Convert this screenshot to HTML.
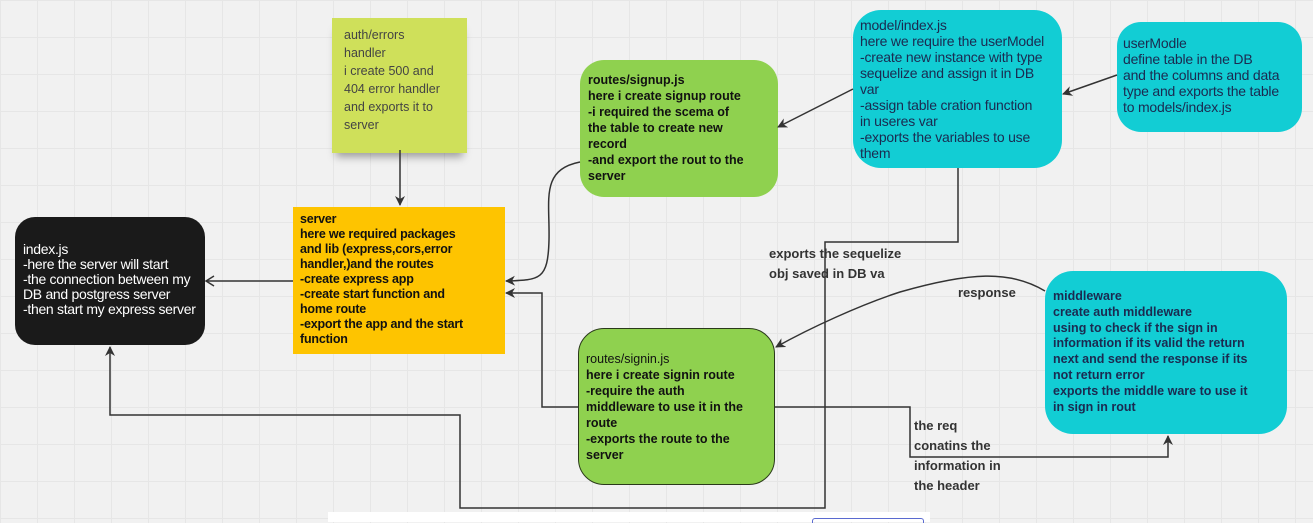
<!DOCTYPE html>
<html><head><meta charset="utf-8"><style>
body{margin:0;width:1313px;height:522px;overflow:hidden;background:#f1f1f1;font-family:"Liberation Sans",sans-serif;position:relative;
background-image:linear-gradient(#e6e6e6 1px,transparent 1px),linear-gradient(90deg,#e6e6e6 1px,transparent 1px);background-size:37px 37px;}
.b{position:absolute;box-sizing:border-box;white-space:nowrap;}
svg{position:absolute;left:0;top:0}
.lbl{position:absolute;font-size:13px;font-weight:bold;color:#333;line-height:20px;white-space:nowrap}
.n{font-family:"Liberation Sans Narrow","Liberation Sans",sans-serif;}
</style></head><body>
<div class="b n" style="left:15px;top:217px;width:190px;height:128px;background:#1a1a1a;border-radius:20px;color:#fff;padding:25px 0 0 8px;line-height:15px;font-size:14px;letter-spacing:-0.3px">index.js<br>-here the server will start<br>-the connection between my<br>DB and postgress server<br>-then start my express server</div>
<div class="b" style="left:293px;top:207px;width:212px;height:147px;background:#fec400;color:#111;font-weight:bold;padding:5px 0 0 7px;font-size:12.5px;line-height:15px;letter-spacing:-0.2px">server<br>here we required packages<br>and lib (express,cors,error<br>handler,)and the routes<br>-create express app<br>-create start function and<br>home route<br>-export the app and the start<br>function</div>
<div class="b" style="left:332px;top:18px;width:135px;height:135px;background:#cfe05a;color:#444;padding:8px 0 0 12px;font-size:12.5px;line-height:18px;box-shadow:0 8px 8px -4px rgba(0,0,0,0.35)">auth/errors<br>handler<br>i create 500 and<br>404 error handler<br>and exports it to<br>server</div>
<div class="b" style="left:580px;top:60px;width:198px;height:137px;background:#8fd14f;border-radius:24px;color:#111;font-weight:bold;padding:12px 0 0 8px;line-height:16px;font-size:12.5px">routes/signup.js<br>here i create signup route<br>-i required the scema of<br>the table to create new<br>record<br>-and export the rout to the<br>server</div>
<div class="b n" style="left:853px;top:10px;width:209px;height:158px;background:#12cdd4;border-radius:28px;color:#1b2a50;padding:7px 0 0 7px;line-height:16px;font-size:14px;letter-spacing:-0.2px">model/index.js<br>here we require the userModel<br>-create new instance with type<br>sequelize and assign it in DB<br>var<br>-assign table cration function<br>in useres var<br>-exports the variables to use<br>them</div>
<div class="b n" style="left:1117px;top:22px;width:185px;height:110px;background:#12cdd4;border-radius:24px;color:#1b2a50;padding:13px 0 0 6px;line-height:16px;font-size:14px;letter-spacing:-0.2px">userModle<br>define table in the DB<br>and the columns and data<br>type and exports the table<br>to models/index.js</div>
<div class="b" style="left:1045px;top:271px;width:242px;height:163px;background:#12cdd4;border-radius:28px;color:#1b2a50;font-weight:bold;padding:18px 0 0 8px;line-height:15.8px;font-size:12.5px">middleware<br>create auth middleware<br>using to check if the sign in<br>information if its valid the return<br>next and send the response if its<br>not return error<br>exports the middle ware to use it<br>in sign in rout</div>
<div class="b" style="left:578px;top:328px;width:197px;height:157px;background:#8fd14f;border:1.5px solid #2a3a1a;border-radius:26px;color:#111;padding:22px 0 0 7px;line-height:16px;font-size:12.5px">routes/signin.js<br><b>here i create signin route<br>-require the auth<br>middleware to use it in the<br>route<br>-exports the route to the<br>server</b></div>
<div style="position:absolute;left:328px;top:512px;width:602px;height:10px;background:#fff"></div>
<div style="position:absolute;left:812px;top:518px;width:110px;height:4px;border:1px solid #5a6ad0;border-bottom:none;border-radius:3px 3px 0 0"></div>
<svg width="1313" height="522">
<defs><marker id="a" markerWidth="10" markerHeight="10" refX="9" refY="5" orient="auto" markerUnits="userSpaceOnUse"><path d="M0,0 L10,5 L0,10 L3,5z" fill="#333"/></marker>
<marker id="o" markerWidth="10" markerHeight="12" refX="9" refY="6" orient="auto" markerUnits="userSpaceOnUse"><path d="M1,1 L9,6 L1,11" fill="none" stroke="#333" stroke-width="1.5"/></marker></defs>
<g fill="none" stroke="#333" stroke-width="1.5">
<path d="M293,281 L206,281" marker-end="url(#o)"/>
<path d="M400,150 L400,205" marker-end="url(#a)"/>
<path d="M580,162 C540,170 550,200 549,240 C548,280 540,280 506,281" marker-end="url(#a)"/>
<path d="M578,407 L542,407 L542,293 L506,293" marker-end="url(#a)"/>
<path d="M958,168 L958,242 L825,242 L825,508 L460,508 L460,415 L110,415 L110,347" marker-end="url(#a)"/>
<path d="M853,89 L778,127" marker-end="url(#a)"/>
<path d="M1117,75 L1063,94" marker-end="url(#a)"/>
<path d="M1045,291 C1010,270 970,272 900,292 C860,305 810,328 776,347" marker-end="url(#a)"/>
<path d="M775,407 L910,407 L910,457 L1168,457 L1168,436" marker-end="url(#a)"/>
</g></svg>
<div class="lbl" style="left:769px;top:244px">exports the sequelize<br>obj saved in DB va</div>
<div class="lbl" style="left:958px;top:283px">response</div>
<div class="lbl" style="left:914px;top:416px">the req<br>conatins the<br>information in<br>the header</div>
</body></html>
